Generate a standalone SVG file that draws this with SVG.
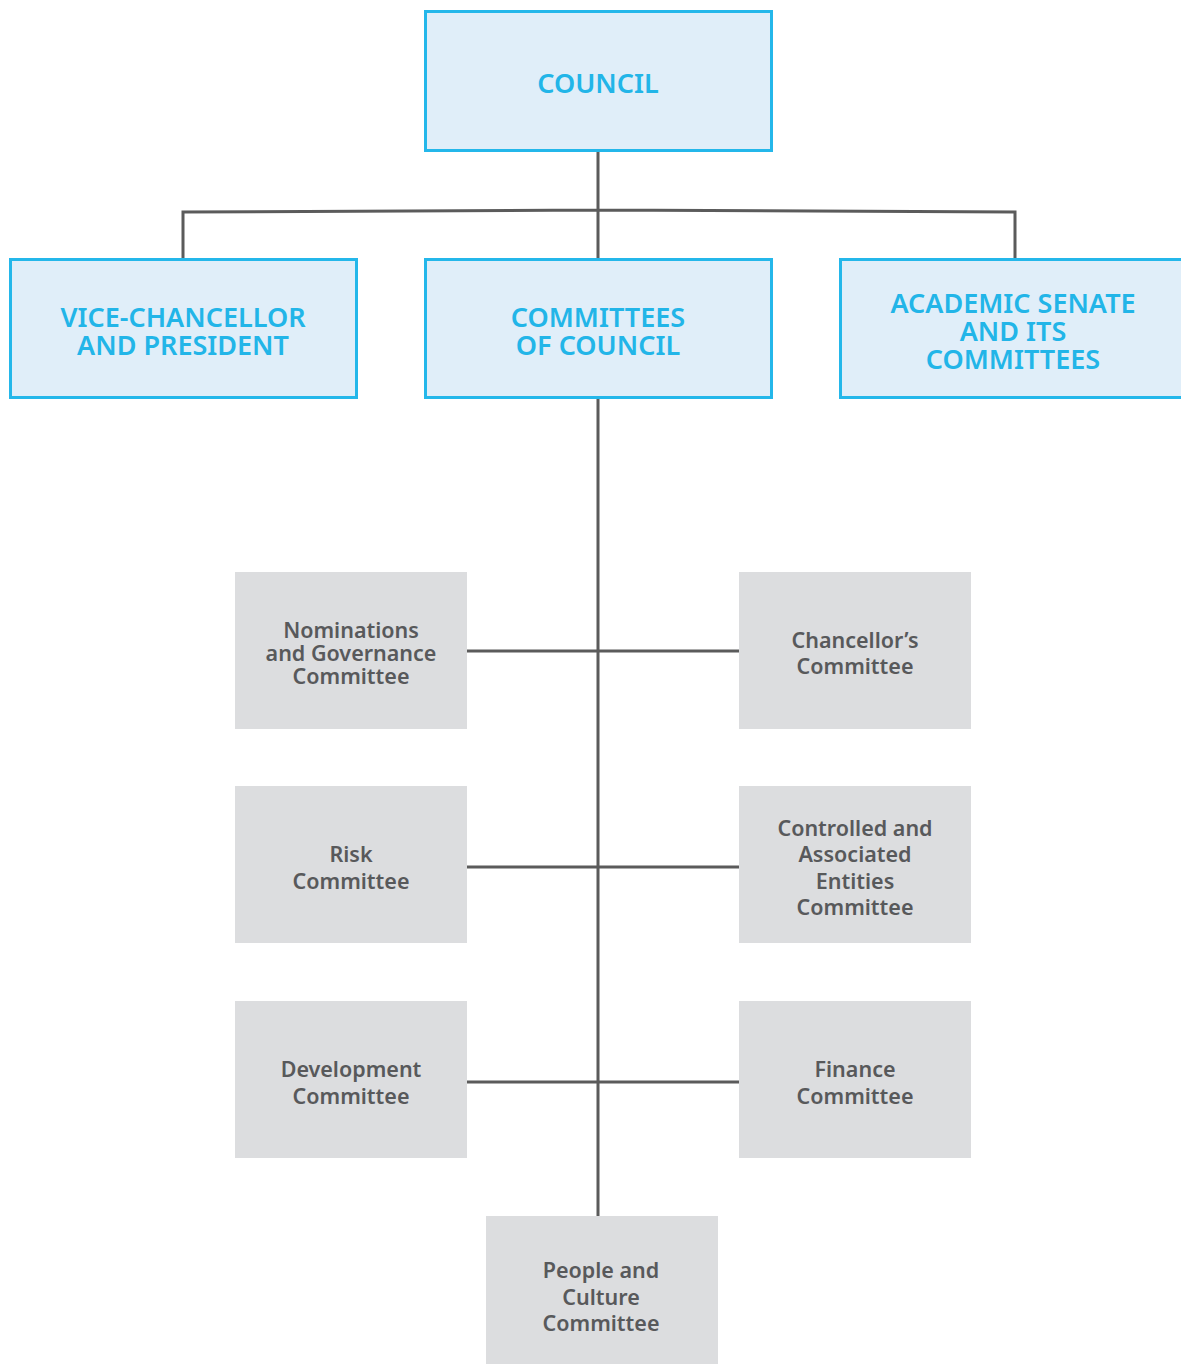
<svg xmlns="http://www.w3.org/2000/svg" width="1181" height="1364" viewBox="0 0 1181 1364">
<style>
.b{fill:#e0eef9;stroke:#24b7ea;stroke-width:3}
.g{fill:#dcdddf}
.bt{font-family:"Noto Sans","Open Sans",sans-serif;font-weight:600;font-size:27px;fill:#22b5e8;text-anchor:middle}
.gt{font-family:"Noto Sans","Open Sans",sans-serif;font-weight:600;font-size:21.5px;fill:#58595b;text-anchor:middle}
.c{stroke:#5b5b5b;stroke-width:3;fill:none}
</style>
<rect width="1181" height="1364" fill="#fff"/>
<g id="connectors">
<path class="c" d="M598 150V259M183 259V212L598 210L1015 212V259M598 397V1216M467 651H739M467 867H739M467 1082H739"/>
</g>
<g id="council"><rect class="b" x="425.5" y="11.5" width="346" height="139"/><text class="bt" x="598" y="93">COUNCIL</text></g>
<g id="vc"><rect class="b" x="10.5" y="259.5" width="346" height="138"/><text class="bt" x="183" y="327">VICE-CHANCELLOR</text><text class="bt" x="183" y="355">AND PRESIDENT</text></g>
<g id="coc"><rect class="b" x="425.5" y="259.5" width="346" height="138"/><text class="bt" x="598" y="327">COMMITTEES</text><text class="bt" x="598" y="355">OF COUNCIL</text></g>
<g id="senate"><rect class="b" x="840.5" y="259.5" width="344" height="138"/><text class="bt" x="1013" y="313">ACADEMIC SENATE</text><text class="bt" x="1013" y="341">AND ITS</text><text class="bt" x="1013" y="369">COMMITTEES</text></g>
<g id="nominations"><rect class="g" x="235" y="572" width="232" height="157"/><text class="gt" x="351" y="638">Nominations</text><text class="gt" x="351" y="661">and Governance</text><text class="gt" x="351" y="684">Committee</text></g>
<g id="chancellors"><rect class="g" x="739" y="572" width="232" height="157"/><text class="gt" x="855" y="648">Chancellor’s</text><text class="gt" x="855" y="674">Committee</text></g>
<g id="risk"><rect class="g" x="235" y="786" width="232" height="157"/><text class="gt" x="351" y="862">Risk</text><text class="gt" x="351" y="889">Committee</text></g>
<g id="controlled"><rect class="g" x="739" y="786" width="232" height="157"/><text class="gt" x="855" y="836">Controlled and</text><text class="gt" x="855" y="862">Associated</text><text class="gt" x="855" y="889">Entities</text><text class="gt" x="855" y="915">Committee</text></g>
<g id="development"><rect class="g" x="235" y="1001" width="232" height="157"/><text class="gt" x="351" y="1077">Development</text><text class="gt" x="351" y="1104">Committee</text></g>
<g id="finance"><rect class="g" x="739" y="1001" width="232" height="157"/><text class="gt" x="855" y="1077">Finance</text><text class="gt" x="855" y="1104">Committee</text></g>
<g id="people"><rect class="g" x="486" y="1216" width="232" height="148"/><text class="gt" x="601" y="1278">People and</text><text class="gt" x="601" y="1305">Culture</text><text class="gt" x="601" y="1331">Committee</text></g>
</svg>
